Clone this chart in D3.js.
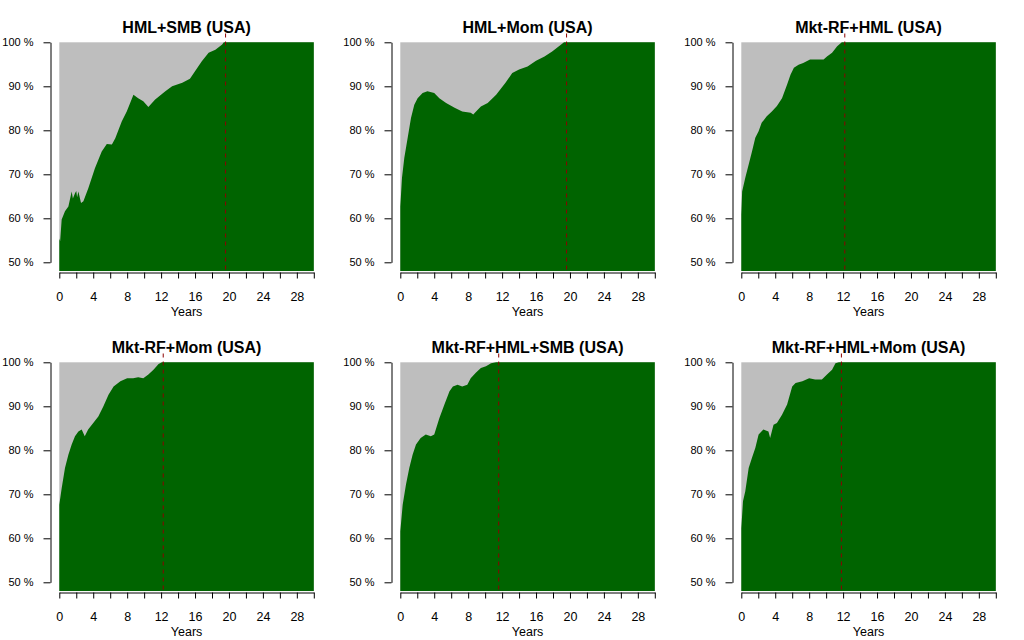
<!DOCTYPE html>
<html>
<head>
<meta charset="utf-8">
<script src="https://cdn.jsdelivr.net/npm/d3@7/dist/d3.min.js"></script>
<style>
  html, body { margin: 0; padding: 0; background: #ffffff; }
  svg { display: block; font-family: "Liberation Sans", Arial, sans-serif; }
</style>
</head>
<body>
<svg id="chart" width="1024" height="640"></svg>
<script>
const titles = ["HML+SMB (USA)", "HML+Mom (USA)", "Mkt-RF+HML (USA)",
                "Mkt-RF+Mom (USA)", "Mkt-RF+HML+SMB (USA)", "Mkt-RF+HML+Mom (USA)"];
const crossYears = [19.6, 19.6, 12.2, 12.25, 11.6, 11.8];

const hmlSmbYears  = [0,0.1,0.28,0.67,1.07,1.46,1.6,1.85,2.0,2.1,2.25,2.56,2.84,3.43,4.2,5.0,5.6,6.2,6.6,7.36,7.95,8.74,9.3,9.9,10.5,11.3,12.5,13.3,14.5,15.4,16.0,16.8,17.6,18.4,19.2,19.4,30];
const hmlSmbValues = [55.4,54.8,59.7,61.6,62.7,66.1,64.5,65.7,66.2,64.8,66.1,63.5,63.9,66.9,71.4,75.2,76.9,76.8,78.2,82.0,84.3,88.1,87.3,86.6,85.3,87.0,88.9,90.0,90.8,91.7,93.4,95.7,97.6,98.3,99.5,100,100];

const hmlMomYears  = [0,0.2,0.47,0.87,1.26,1.65,2.04,2.63,3.2,4.0,4.6,5.4,6.4,7.3,8.3,8.6,8.9,9.5,10.3,11.3,12.4,13.2,14.0,15.0,16.0,17.0,17.9,18.7,19.3,30];
const hmlMomValues = [62.7,69.2,73.7,78.3,82.8,85.8,87.3,88.5,88.9,88.5,87.3,86.2,85.1,84.3,84.0,83.6,84.2,85.4,86.2,88.1,90.8,93.0,93.8,94.5,95.8,96.8,97.9,99.1,100,100];

const mktHmlYears  = [0,0.1,0.47,0.87,1.26,1.65,2.04,2.4,3.0,3.6,4.2,4.8,5.4,5.8,6.2,6.75,7.3,8.1,8.9,9.7,10.1,10.7,11.3,11.85,30];
const mktHmlValues = [60.8,66.1,69.2,72.2,75.2,78.3,79.8,81.7,83.2,84.3,85.5,87.3,90.4,92.6,94.2,94.9,95.3,96.1,96.1,96.1,96.8,97.6,99.1,100,100];

const mktMomYears  = [0,0.28,0.67,1.07,1.46,1.85,2.25,2.64,3.0,3.4,4.0,4.6,5.2,5.8,6.4,7.2,8.0,8.7,9.3,9.9,10.5,11.1,11.7,12.1,30];
const mktMomValues = [67.6,71.4,76.0,79.0,81.3,83.2,84.3,84.7,83.2,84.7,86.2,87.7,90.0,92.6,94.5,95.7,96.4,96.4,96.6,96.4,97.2,98.3,99.6,100,100];

const mktHmlSmbYears  = [0,0.28,0.67,1.06,1.45,1.85,2.4,3.0,3.6,4.0,4.6,5.2,5.8,6.2,6.75,7.3,7.9,8.3,8.9,9.5,10.1,10.7,11.3,30];
const mktHmlSmbValues = [61.6,67.6,72.2,76.0,79.0,81.3,82.8,83.6,83.2,83.6,87.3,90.4,93.4,94.5,94.9,94.5,94.9,96.4,97.6,98.7,99.1,99.8,100,100];

const mktHmlMomYears  = [0,0.2,0.47,0.87,1.26,1.65,2.04,2.6,3.2,3.4,3.8,4.2,4.8,5.4,6.0,6.4,7.2,8.0,8.7,9.5,10.1,10.7,11.1,11.5,30];
const mktHmlMomValues = [62.3,68.4,70.7,76.0,78.3,80.5,83.6,84.7,84.3,82.8,85.8,86.2,88.1,90.4,94.5,95.3,95.7,96.4,96.1,96.1,97.2,98.3,99.8,100,100];

const seriesYears  = [hmlSmbYears, hmlMomYears, mktHmlYears, mktMomYears, mktHmlSmbYears, mktHmlMomYears];
const seriesValues = [hmlSmbValues, hmlMomValues, mktHmlValues, mktMomValues, mktHmlSmbValues, mktHmlMomValues];

const xTickValues = [0,2,4,6,8,10,12,14,16,18,20,22,24,26,28,30];
const xTickLabels = [0,4,8,12,16,20,24,28];
const yTickValues = [50,60,70,80,90,100];
const xDomain = [0, 30];
const yDomain = [50, 100];
const yFloor = 48, yCeil = 102;

const svg = d3.select("#chart");
const colStep = 341, rowStep = 320;
const plotW = 254.5;

titles.forEach((title, i) => {
  const col = i % 3, row = Math.floor(i / 3);
  const x0 = 59.3 + col * colStep;
  const top = 42.3 + row * rowStep;
  const x = d3.scaleLinear().domain(xDomain).range([x0, x0 + plotW]);
  const y = d3.scaleLinear().domain(yDomain).range([top + 220, top]);
  const g = svg.append("g");

  // gray background area
  g.append("rect")
    .attr("x", x(0)).attr("y", y(100))
    .attr("width", x(30) - x(0)).attr("height", y(yFloor) - y(100))
    .attr("fill", "#bebebe");

  const data = seriesYears[i].map((yr, k) => ({ yr, v: seriesValues[i][k] }));
  const area = d3.area()
    .x(d => x(d.yr))
    .y0(y(yFloor))
    .y1(d => y(d.v));
  g.append("path").datum(data).attr("d", area).attr("fill", "#006400");

  // dashed vertical line
  g.append("line")
    .attr("x1", x(crossYears[i])).attr("x2", x(crossYears[i]))
    .attr("y1", y(yCeil)).attr("y2", y(yFloor))
    .attr("stroke", "#8b0000").attr("stroke-width", 1)
    .attr("stroke-dasharray", "4,4");

  // y axis
  const yAxis = d3.axisLeft(y).tickValues(yTickValues)
    .tickFormat(d => d + " %").tickSize(7).tickSizeOuter(0).tickPadding(10);
  const ya = g.append("g").attr("transform", `translate(${Math.round(x0 - 9.3) + 0.5},0)`).call(yAxis);
  ya.selectAll("text").style("font-size", "11px").attr("fill", "#000");
  ya.selectAll("path, line").attr("stroke", "#000");

  // x axis
  const xAxis = d3.axisBottom(x).tickValues(xTickValues)
    .tickFormat(d => xTickLabels.includes(d) ? d : "")
    .tickSize(6).tickSizeOuter(0).tickPadding(14);
  const xa = g.append("g").attr("transform", `translate(0,${Math.round(top + 229.4) + 0.5})`).call(xAxis);
  xa.selectAll("text").style("font-size", "12.5px").attr("fill", "#000");
  xa.selectAll("path, line").attr("stroke", "#000");

  // x label
  g.append("text")
    .attr("x", x0 + plotW / 2).attr("y", top + 273.5)
    .attr("text-anchor", "middle").style("font-size", "12.5px")
    .text("Years");

  // title
  g.append("text")
    .attr("x", x0 + plotW / 2).attr("y", top - 9)
    .attr("text-anchor", "middle").style("font-size", "16px").style("font-weight", "bold")
    .text(title);
});
</script>
</body>
</html>
